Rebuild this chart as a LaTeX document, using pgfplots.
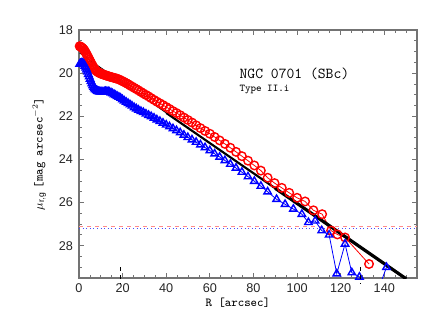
\documentclass[border=0pt]{standalone}
\usepackage{pgfplots}
\pgfplotsset{compat=1.18}
\usepackage{pgfplotstable}
\usepackage{fontspec}
\setmainfont{Liberation Sans}
\definecolor{frame}{gray}{0.45}

% red profile (circles)
\pgfplotstableread{
R y
0.3 18.75
0.7 18.77
1.1 18.80
1.5 18.83
1.9 18.87
2.3 18.92
2.7 18.98
3.1 19.05
3.5 19.12
3.9 19.20
4.3 19.28
4.7 19.36
5.1 19.44
5.5 19.52
5.9 19.60
6.3 19.67
6.7 19.74
7.1 19.80
7.5 19.85
8.0 19.90
8.5 19.94
9.0 19.97
9.5 20.00
10.0 20.02
10.5 20.04
11.0 20.06
11.6 20.08
12.2 20.10
12.8 20.12
13.4 20.14
14.0 20.16
14.7 20.18
15.4 20.20
16.1 20.22
16.8 20.24
17.5 20.26
18.3 20.29
19.1 20.33
19.9 20.37
20.7 20.41
21.6 20.46
22.5 20.51
23.4 20.57
24.3 20.62
25.3 20.68
26.3 20.74
27.3 20.80
28.4 20.87
29.5 20.94
30.7 21.01
31.9 21.08
33.1 21.16
34.4 21.24
35.7 21.32
37.1 21.40
38.5 21.48
40.0 21.57
41.5 21.66
43.1 21.76
44.7 21.85
46.4 21.95
48.1 22.06
49.9 22.17
51.8 22.29
53.7 22.42
55.7 22.55
57.8 22.68
60.0 22.81
62.2 22.96
64.5 23.12
66.9 23.28
69.4 23.46
72.0 23.65
74.7 23.85
77.5 24.06
80.4 24.28
83.4 24.52
86.5 24.85
89.7 25.10
93.0 25.32
96.4 25.55
100.0 25.78
103.7 25.95
107.5 26.36
111.5 26.54
115.6 27.30
118.5 27.48
122.0 27.62
133.0 28.85
}\redprof

% blue profile (triangles)
\pgfplotstableread{
R y
0.3 19.58
0.7 19.55
1.1 19.53
1.5 19.53
1.9 19.55
2.3 19.60
2.7 19.67
3.1 19.75
3.5 19.84
3.9 19.94
4.3 20.05
4.7 20.16
5.1 20.27
5.5 20.38
5.9 20.48
6.3 20.57
6.7 20.65
7.1 20.71
7.5 20.76
8.0 20.80
8.5 20.83
9.0 20.85
9.5 20.86
10.0 20.87
10.5 20.87
11.0 20.87
11.6 20.86
12.2 20.85
12.8 20.85
13.4 20.86
14.0 20.88
14.7 20.91
15.4 20.95
16.1 20.99
16.8 21.03
17.5 21.07
18.3 21.11
19.1 21.16
19.9 21.22
20.7 21.28
21.6 21.34
22.5 21.40
23.4 21.46
24.3 21.52
25.3 21.59
26.3 21.65
27.3 21.71
28.4 21.77
29.5 21.82
30.7 21.89
31.9 21.95
33.1 22.01
34.4 22.08
35.7 22.16
37.1 22.23
38.5 22.31
40.0 22.40
41.5 22.48
43.1 22.57
44.7 22.66
46.4 22.76
48.1 22.87
49.9 22.98
51.8 23.09
53.7 23.20
55.7 23.32
57.8 23.45
60.0 23.59
62.2 23.74
64.5 23.89
66.9 24.05
69.4 24.22
72.0 24.40
74.7 24.59
77.5 24.80
80.4 25.01
83.4 25.24
86.5 25.50
90.6 25.85
94.5 26.08
98.3 26.30
102.2 26.54
105.2 26.92
108.3 26.85
111.3 27.30
114.7 27.50
118.2 29.30
122.0 27.92
125.1 29.25
128.6 29.45
134.5 30.80
141.0 29.00
}\blueprof

\pgfplotsset{
  common/.style={
    scale only axis, width=253.5pt, height=186pt,
    xmin=0, xmax=155, ymin=18, ymax=29.5, y dir=reverse,
  },
}

\begin{document}
\begin{tikzpicture}
\begin{axis}[common, name=main,
    xtick={0,20,...,160}, ytick={18,20,...,30},
    minor x tick num=3, minor y tick num=3,
    tick align=inside, major tick length=4pt, minor tick length=2.2pt,
    axis line style={frame, line width=0.8pt},
    every tick/.style={frame, line width=0.6pt},
    tick label style={font=\fontsize{9.5}{10}\selectfont, text=black!85},
    /pgf/number format/assume math mode=true,
    xticklabel style={yshift=-1pt},
    yticklabel style={xshift=-1pt},
    xlabel={\ttfamily R [arcsec]},
    ylabel={$\mu_{\mathrm{r,g}}$ {\ttfamily [mag arcsec$^{-2}$]}},
    every axis x label/.style={at={(axis description cs:0.47,-0.1)}, anchor=center,
      font=\fontsize{9.2}{10}\selectfont},
    every axis y label/.style={at={(axis description cs:-0.118,0.5)}, anchor=center,
      rotate=90, font=\fontsize{9.2}{10}\selectfont},
]
  \addplot[red!45, dashed, line width=0.7pt] coordinates {(0,27.12) (155,27.12)};
  \addplot[blue!70, dotted, line width=0.7pt] coordinates {(0,27.2) (155,27.2)};

  \addplot[red, line width=0.6pt, mark=o, mark size=3.2pt,
    mark options={solid, line width=1.05pt}] table[x=R, y=y] {\redprof};
  \addplot[blue, line width=0.6pt, mark=triangle, mark size=3.2pt,
    mark options={solid, line width=1.05pt}] table[x=R, y=y] {\blueprof};

  \addplot[black, line width=0.6pt] coordinates {(0.3,19.07) (150,29.535)};
  \addplot[black, line width=1.6pt] coordinates {(40,21.846) (150,29.535)};
  \addplot[black, line width=2.4pt] coordinates {(90,25.341) (150,29.535)};

  \node[anchor=west, font=\ttfamily\fontsize{11.4}{13}\selectfont] at (axis cs:71.5,20.03) {NGC 0701 (SBc)};
  \node[anchor=west, font=\ttfamily\fontsize{7.8}{9}\selectfont] at (axis cs:71.5,20.74) {Type II.i};
\end{axis}
\begin{axis}[common, hide axis, clip=false]
  \addplot[black, dashed, line width=0.7pt] coordinates {(18.8,29.0) (18.8,29.75)};
  \addplot[black, dashed, line width=0.7pt] coordinates {(128.9,29.0) (128.9,29.8)};
\end{axis}
\pgfresetboundingbox
\path ([shift={(-59.25pt,-41.25pt)}]main.south west) rectangle ([shift={(9.75pt,22.5pt)}]main.north east);
\end{tikzpicture}
\end{document}
